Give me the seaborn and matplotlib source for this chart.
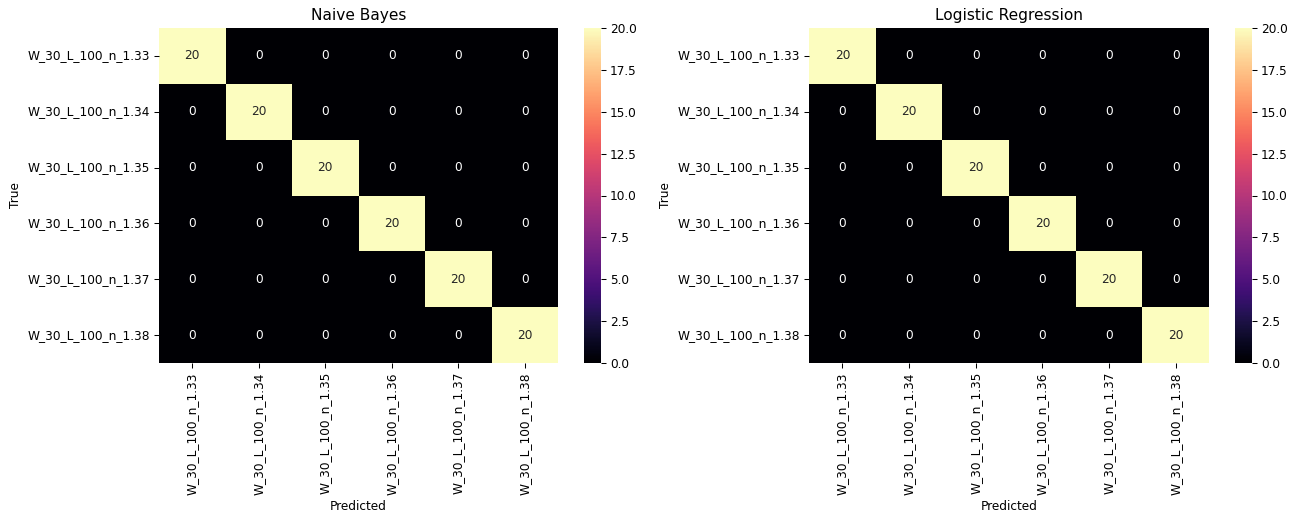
import numpy as np
import seaborn as sns
import matplotlib
matplotlib.use('Agg')
import matplotlib.pyplot as plt

labels = ['W_30_L_100_n_1.33', 'W_30_L_100_n_1.34', 'W_30_L_100_n_1.35',
          'W_30_L_100_n_1.36', 'W_30_L_100_n_1.37', 'W_30_L_100_n_1.38']
models = ['Naive Bayes', 'Logistic Regression']

# confusion matrices
cm_nb = [[20, 0, 0, 0, 0, 0],
         [0, 20, 0, 0, 0, 0],
         [0, 0, 20, 0, 0, 0],
         [0, 0, 0, 20, 0, 0],
         [0, 0, 0, 0, 20, 0],
         [0, 0, 0, 0, 0, 20]]
cm_lr = [[20, 0, 0, 0, 0, 0],
         [0, 20, 0, 0, 0, 0],
         [0, 0, 20, 0, 0, 0],
         [0, 0, 0, 20, 0, 0],
         [0, 0, 0, 0, 20, 0],
         [0, 0, 0, 0, 0, 20]]

plt.rcParams['font.size'] = 9.45

W, H = 1296, 520
dpi = 92.6
fig = plt.figure(figsize=(W / dpi, H / dpi), dpi=dpi)

# pixel boxes (left, right) of heatmap and colorbar, top/bottom shared
top, bottom = 28, 363
boxes = [((159, 558), (584, 601)), ((809, 1209), (1235, 1252))]

for (hx, cx), name, cm in zip(boxes, models, [cm_nb, cm_lr]):
    ax = fig.add_axes([hx[0] / W, (H - bottom) / H, (hx[1] - hx[0]) / W, (bottom - top) / H])
    cax = fig.add_axes([cx[0] / W, (H - bottom) / H, (cx[1] - cx[0]) / W, (bottom - top) / H])
    sns.heatmap(np.array(cm), annot=True, fmt='d', cmap='magma',
                xticklabels=labels, yticklabels=labels, ax=ax, cbar_ax=cax)
    ax.set_title(name, fontsize=12)
    ax.set_xlabel('Predicted')
    ax.set_ylabel('True')

plt.savefig('out.png', dpi=dpi)
